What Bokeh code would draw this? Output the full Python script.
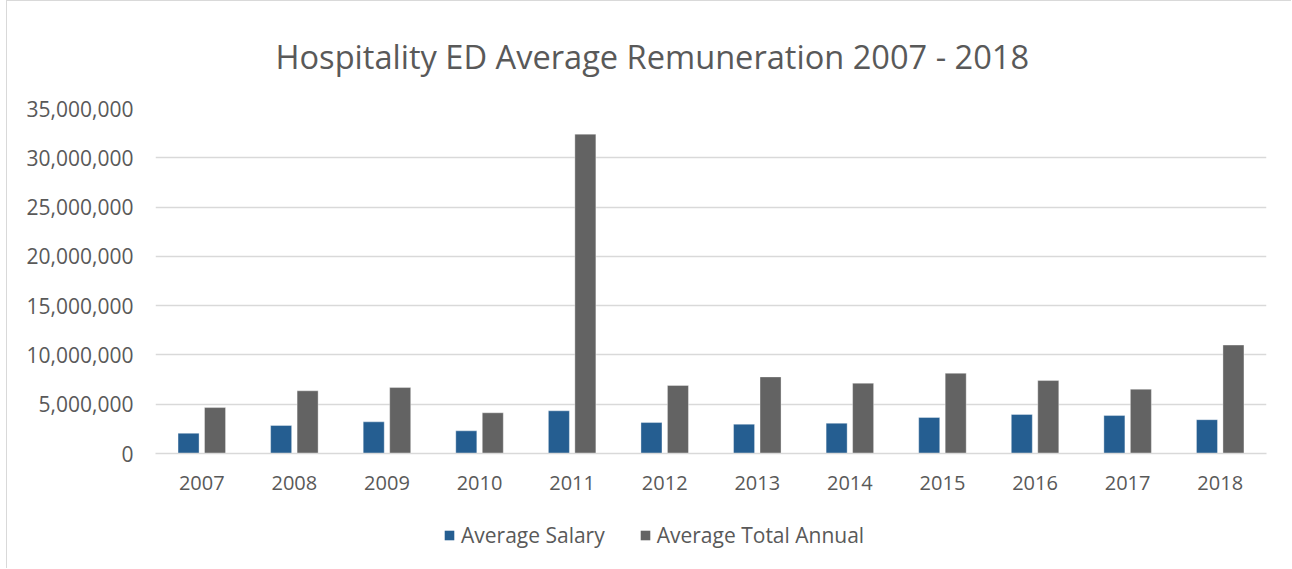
from bokeh.plotting import figure
from bokeh.layouts import column
from bokeh.models import (ColumnDataSource, FactorRange, Range1d, NumeralTickFormatter,
                          FixedTicker, Legend, LegendItem, Title)
from bokeh.transform import dodge
from bokeh.embed import file_html
from bokeh.resources import INLINE

years = ["2007", "2008", "2009", "2010", "2011", "2012",
         "2013", "2014", "2015", "2016", "2017", "2018"]
avg_salary = [2050000, 2840000, 3210000, 2300000, 4330000, 3140000,
              2970000, 3070000, 3650000, 3960000, 3850000, 3430000]
avg_total_annual = [4660000, 6360000, 6690000, 4130000, 32400000, 6900000,
                    7770000, 7130000, 8140000, 7400000, 6520000, 11000000]
y_ticks = [0, 5000000, 10000000, 15000000, 20000000, 25000000, 30000000, 35000000]

title_text = "Hospitality ED Average Remuneration 2007 - 2018"
series_names = ["Average Salary", "Average Total Annual"]
colors = ["#255E91", "#636363"]

FONT = "Open Sans"
TEXT_COLOR = "#595959"
GRID_COLOR = "#d9d9d9"
BORDER = "1px solid #d9d9d9"

src = ColumnDataSource(dict(year=years, salary=avg_salary, total=avg_total_annual))

W = 1285
p = figure(x_range=FactorRange(*years, range_padding=0),
           y_range=Range1d(0, 35000000),
           width=W, height=499, output_backend="svg", toolbar_location=None,
           min_border_left=148, min_border_right=26, min_border_top=107,
           min_border_bottom=47, title=None)
p.styles = {"border-top": BORDER, "border-left": BORDER}
p.outline_line_color = None
p.background_fill_color = "white"
p.border_fill_color = "white"

r1 = p.vbar(x=dodge("year", -0.143, range=p.x_range), top="salary", width=0.227,
            source=src, fill_color=colors[0], line_color="white", line_width=0.6, line_alpha=0.6)
r2 = p.vbar(x=dodge("year", 0.143, range=p.x_range), top="total", width=0.227,
            source=src, fill_color=colors[1], line_color="white", line_width=0.6, line_alpha=0.6)

# axes
p.yaxis.ticker = FixedTicker(ticks=y_ticks)
p.yaxis.formatter = NumeralTickFormatter(format="0,0")
p.yaxis.axis_line_color = None
p.yaxis.major_tick_line_color = None
p.yaxis.minor_tick_line_color = None
p.yaxis.major_label_standoff = 16
p.yaxis.major_label_text_font = FONT
p.yaxis.major_label_text_font_size = "21px"
p.yaxis.major_label_text_color = TEXT_COLOR

p.xaxis.axis_line_color = GRID_COLOR
p.xaxis.axis_line_width = 1.5
p.xaxis.major_tick_line_color = None
p.xaxis.minor_tick_line_color = None
p.xaxis.major_label_standoff = 16
p.xaxis.major_label_text_font = FONT
p.xaxis.major_label_text_font_size = "20px"
p.xaxis.major_label_text_color = TEXT_COLOR

p.xgrid.grid_line_color = None
p.ygrid.grid_line_color = GRID_COLOR
p.ygrid.grid_line_width = 1.5

# title
t = Title(text=title_text, align="left", offset=120, text_font=FONT,
          text_font_size="32.6px", text_color=TEXT_COLOR, text_font_style="normal",
          standoff=59)
p.add_layout(t, "above")

# legend strip below the chart (same series with zero-width marks, so only the key shows)
lg = figure(width=W, height=69, x_range=FactorRange(*years, range_padding=0),
            y_range=Range1d(1e9, 2e9),
            output_backend="svg", toolbar_location=None, min_border=0)
lg.styles = {"border-left": BORDER}
lg.axis.visible = False
lg.grid.grid_line_color = None
lg.outline_line_color = None
lr1 = lg.vbar(x="year", top="salary", width=0, source=src,
              fill_color=colors[0], line_color=None)
lr2 = lg.vbar(x="year", top="total", width=0, source=src,
              fill_color=colors[1], line_color=None)
legend = Legend(items=[LegendItem(label=series_names[0], renderers=[lr1]),
                       LegendItem(label=series_names[1], renderers=[lr2])],
                orientation="horizontal", location=(288, 19),
                glyph_width=12, glyph_height=12, spacing=34, padding=0, margin=0,
                label_text_font=FONT, label_text_font_size="21px",
                label_text_color=TEXT_COLOR, border_line_color=None,
                background_fill_alpha=0, label_standoff=6)
lg.add_layout(legend)

layout = column(p, lg, spacing=0, margin=(0, 0, 0, 6))
open("out.html", "w").write(file_html(layout, INLINE))
